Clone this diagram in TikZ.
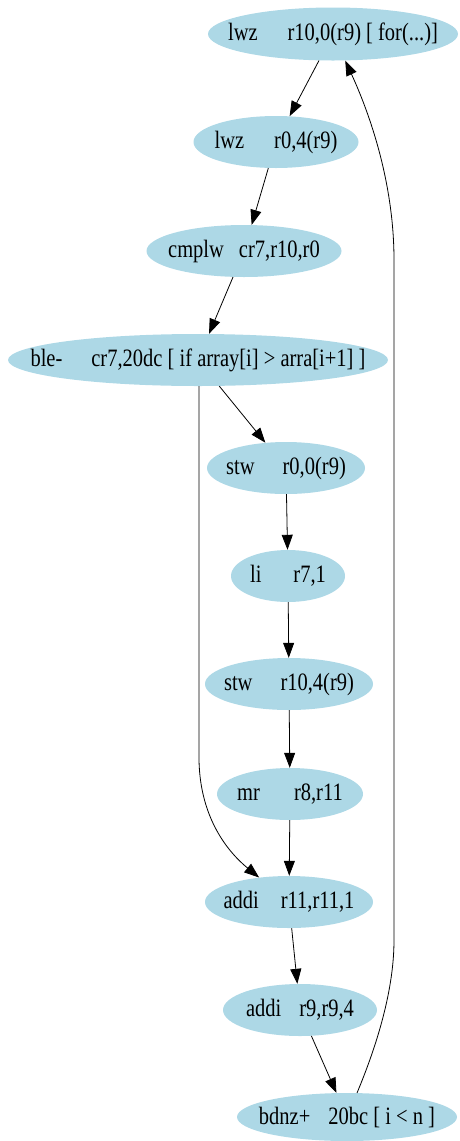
\documentclass[tikz,border=0pt]{standalone}
\usepackage{fontspec}
\usepackage{graphicx}
\setmainfont{Liberation Serif}
\usetikzlibrary{shapes.geometric,arrows.meta}
\definecolor{nodefill}{HTML}{ADD8E6}
\tikzset{
  insn/.style={ellipse, fill=nodefill, draw=none, inner sep=0pt,
               minimum height=52, font=\fontsize{25}{28}\selectfont},
  flow/.style={draw=black, line width=0.8pt,
               -{Triangle[length=15pt,width=11pt]}},
}
% mnemonic, gap, operands; narrow glyphs, and a label box of no width
% so that each ellipse keeps the size given to it
\newcommand{\nar}[1]{\scalebox{0.82}[1]{#1}}
\newcommand{\op}[3]{\makebox[0pt]{\nar{#1}\hspace{#2pt}\nar{#3}}}
\begin{document}
\begin{tikzpicture}[x=1pt,y=-1pt]
\useasboundingbox (0,0) rectangle (459,1141);

\node[insn, minimum width=250, minimum height=53] (n1) at (333,34) {\op{lwz}{30}{r10,0(r9) [ for(...)]}};
\node[insn, minimum width=165] (n2)  at (276,142)  {\op{lwz}{30}{r0,4(r9)}};
\node[insn, minimum width=195] (n3)  at (244,251)  {\op{cmplw}{15}{cr7,r10,r0}};
\node[insn, minimum width=380] (n4)  at (198,360)  {\op{ble-}{29}{cr7,20dc [ if array[i] > arra[i+1] ]}};
\node[insn, minimum width=158] (n5)  at (286,468)  {\op{stw}{28}{r0,0(r9)}};
\node[insn, minimum width=114] (n6)  at (288,576)  {\op{li}{32}{r7,1}};
\node[insn, minimum width=168] (n7)  at (289,684)  {\op{stw}{28}{r10,4(r9)}};
\node[insn, minimum width=146] (n8)  at (290,794)  {\op{mr}{34}{r8,r11}};
\node[insn, minimum width=168] (n9)  at (289,902)  {\op{addi}{22}{r11,r11,1}};
\node[insn, minimum width=154] (n10) at (300,1010) {\op{addi}{18}{r9,r9,4}};
\node[insn, minimum width=220, minimum height=48] (n11) at (347,1117) {\op{bdnz+}{18}{20bc [ i < n ]}};

% straight-line fall-through edges
\draw[flow] (n1) -- (n2);
\draw[flow] (n2) -- (n3);
\draw[flow] (n3) -- (n4);
\draw[flow] (n4) -- (n5);
\draw[flow] (n5) -- (n6);
\draw[flow] (n6) -- (n7);
\draw[flow] (n7) -- (n8);
\draw[flow] (n8) -- (n9);
\draw[flow] (n9) -- (n10);
\draw[flow] (n10) -- (n11);

% branch taken: skip the swap
\coordinate (b1) at (199,386);
\coordinate (b2) at (199,760);
\draw[flow] (b1) -- (b2) .. controls (200,818) and (228,852) .. (n9);

% loop back edge
\coordinate (l1) at (394,940);
\coordinate (l2) at (394,260);
\draw[flow] (n11) .. controls (377,1045) and (394,990) .. (l1) -- (l2)
  .. controls (394,180) and (368,110) .. (n1);
\end{tikzpicture}
\end{document}
